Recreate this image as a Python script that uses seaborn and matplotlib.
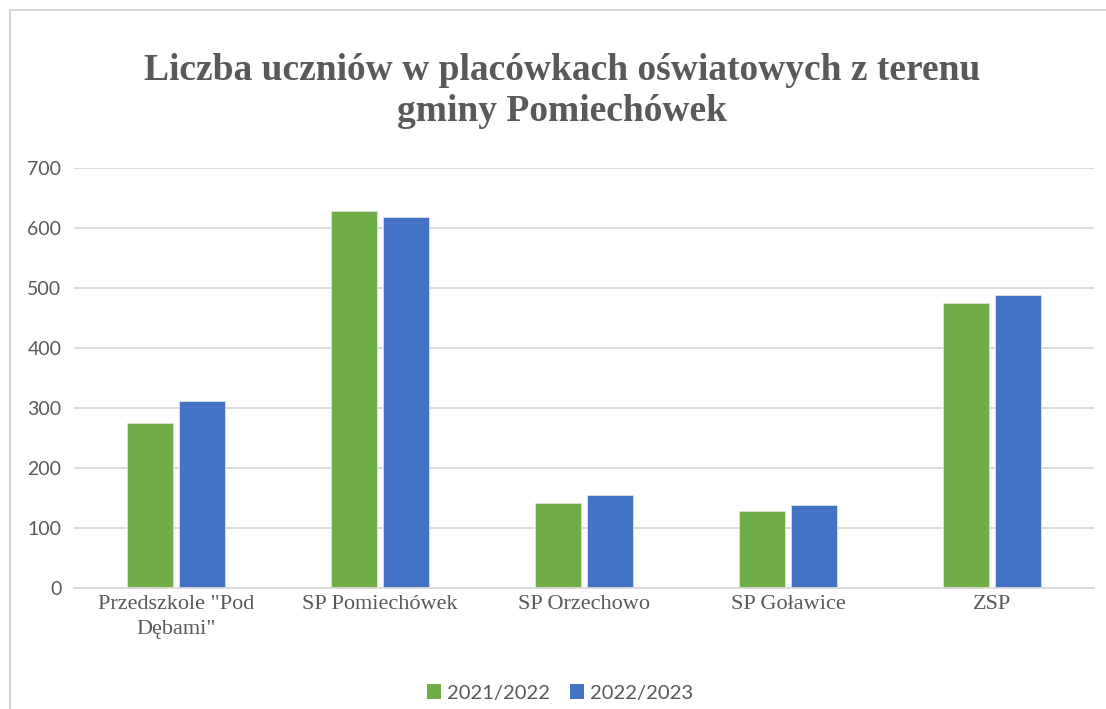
import matplotlib
matplotlib.use("Agg")
import matplotlib.pyplot as plt
import seaborn as sns
import pandas as pd
from matplotlib.patches import Rectangle, Patch

categories = ['Przedszkole "Pod\nDębami"', "SP Pomiechówek", "SP Orzechowo", "SP Goławice", "ZSP"]
series_names = ["2021/2022", "2022/2023"]
values_2021 = [275, 628, 142, 128, 475]
values_2022 = [312, 618, 155, 138, 488]
y_ticks = [0, 100, 200, 300, 400, 500, 600, 700]
title = "Liczba uczniów w placówkach oświatowych z terenu\ngminy Pomiechówek"

colors = ["#70AD47", "#4472C4"]

df = pd.DataFrame({
    "category": categories * 2,
    "series": [series_names[0]] * 5 + [series_names[1]] * 5,
    "value": values_2021 + values_2022,
})

sns.set_theme(style="white")
plt.rcParams["font.family"] = ["Liberation Serif", "DejaVu Serif"]
sans = ["Lato", "DejaVu Sans"]

W, H = 1106, 709
fig = plt.figure(figsize=(W / 100, H / 100), dpi=100)
fig.patch.set_facecolor("white")

# chart area border
fig.patches.append(Rectangle((10 / W, -0.1), 1.2, 1 - 10 / H + 0.1, transform=fig.transFigure,
                             fill=False, edgecolor="#d0d0d0", linewidth=1.2))

ax = fig.add_axes([74 / W, (H - 588) / H, 1020 / W, 420 / H])
sns.barplot(data=df, x="category", y="value", hue="series", palette=colors,
            width=0.51, gap=0.12, ax=ax, legend=False, edgecolor="#d8e8d0", linewidth=0.6,
            saturation=1)

ax.set_ylim(0, 700)
ax.set_yticks(y_ticks)
ax.set_yticklabels([str(t) for t in y_ticks], fontsize=14, color="#595959", family=sans)
ax.set_xlim(-0.5, 4.5)
ax.tick_params(axis="x", labelsize=16, labelcolor="#595959", length=0, pad=5)
ax.tick_params(axis="y", length=0, pad=9)
for lbl in ax.get_xticklabels():
    lbl.set_linespacing(1.4)
ax.set_xlabel("")
ax.set_ylabel("")
ax.yaxis.grid(True, color="#d9d9d9", linewidth=1.3)
ax.set_axisbelow(True)
for s in ["top", "right", "left"]:
    ax.spines[s].set_visible(False)
ax.spines["bottom"].set_color("#d9d9d9")
ax.spines["bottom"].set_linewidth(1.3)

fig.text(562 / W, 1 - 91 / H, title, ha="center", va="center", fontsize=27,
         color="#595959", fontweight="bold", linespacing=1.2)

handles = [Patch(facecolor=c, edgecolor="none") for c in colors]
fig.legend(handles, series_names, loc="center", bbox_to_anchor=(560 / W, 1 - 693 / H), ncol=2,
           frameon=False, prop={"family": sans, "size": 14.5}, labelcolor="#595959",
           handlelength=0.7, handleheight=0.7, handletextpad=0.3, columnspacing=1.0)

fig.savefig("out.png", dpi=100, facecolor="white")
